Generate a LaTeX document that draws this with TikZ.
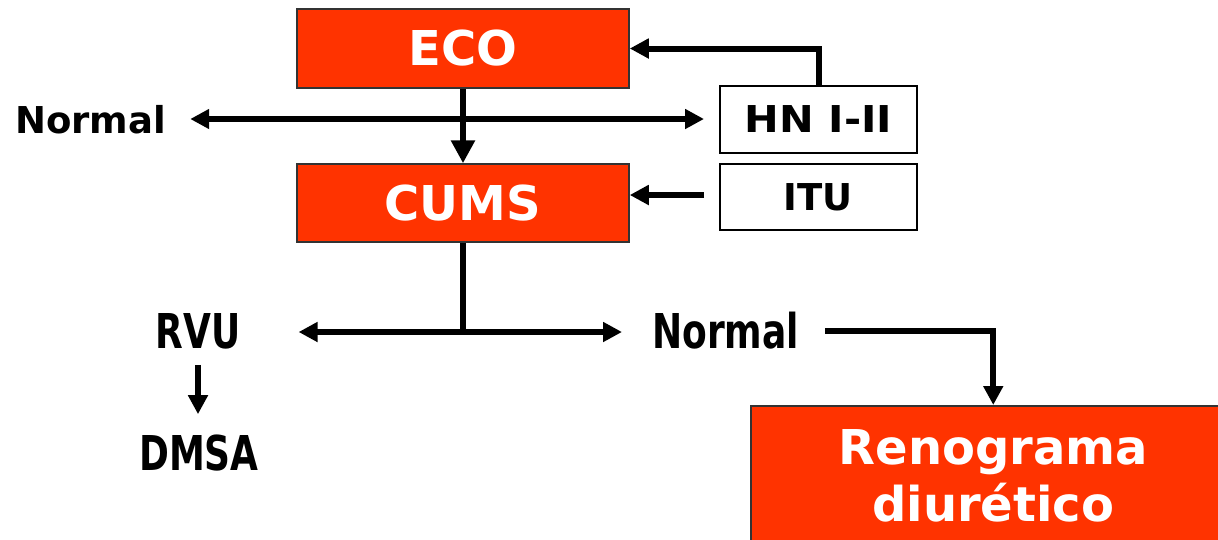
\documentclass[tikz,border=0pt]{standalone}
\usepackage{fontspec}
\setmainfont{DejaVu Sans}
\usetikzlibrary{arrows.meta}
\definecolor{boxred}{HTML}{FF3300}
\definecolor{boxedge}{HTML}{333333}
\tikzset{
  redbox/.style={draw=boxedge, line width=1.5pt, fill=boxred, text=white, inner sep=0pt,
    font=\fontsize{48}{57}\selectfont\bfseries},
  whitebox/.style={draw=black, line width=2pt, fill=white, inner sep=0pt,
    font=\fontsize{37}{44}\selectfont\bfseries, minimum width=197pt, minimum height=66pt},
  lbl/.style={inner sep=0pt, font=\fontsize{37}{44}\selectfont\bfseries},
  cond/.style={inner sep=0pt, font=\fontsize{48}{57}\selectfont\bfseries},
  conn/.style={line width=6pt, -{Triangle[length=19pt,width=19pt]}},
  biconn/.style={line width=6pt, {Triangle[length=19pt,width=19pt]}-{Triangle[length=19pt,width=19pt]}},
  bigconn/.style={line width=6.5pt, -{Triangle[length=23pt,width=23pt]}},
}
\newcommand{\squeeze}[1]{\scalebox{0.75}[1]{#1}}
\begin{document}
\begin{tikzpicture}[x=1pt,y=-1pt]
\useasboundingbox[fill=white] (0,0) rectangle (1218,539);

\node[redbox, minimum width=332pt, minimum height=79pt] (eco) at (463,48.5) {ECO};
\node[redbox, minimum width=332pt, minimum height=78pt] (cums) at (463,203) {CUMS};
\node[whitebox, minimum height=67pt] (hn) at (818.5,119) {\scalebox{1.12}[1]{HN I-II}};
\node[whitebox] (itu) at (818.5,197) {ITU};
\node[redbox, minimum width=485pt, minimum height=140pt, anchor=north west, align=center] (reno) at (750,405) {Renograma\\diurético};

\node[lbl, anchor=base west] (tn) at (15,133) {Normal};
\node[cond, anchor=base] (rvu) at (198,348) {\squeeze{RVU}};
\node[cond, anchor=base west] (nb) at (652,348) {\squeeze{Normal}};
\node[cond, anchor=base] (dmsa) at (199,470) {\squeeze{DMSA}};

\draw[biconn, shorten <=24pt, shorten >=15pt] (tn.east |- 0,119) -- (hn.west |- 0,119);
\draw[bigconn] (eco.south) -- (cums.north);
\draw[conn] (hn.north) |- (eco.east);
\draw[conn, shorten <=15pt] (itu.west |- 0,195) -- (cums.east |- 0,195);
\draw[line width=6pt] (cums.south) -- (463,335) coordinate (j);
\draw[biconn, shorten <=58pt, shorten >=30pt] (rvu.east |- 0,332) -- (nb.west |- 0,332);
\draw[conn, shorten <=26pt] (nb.east |- 0,331) -| (reno.north);
\draw[conn, shorten <=16pt, shorten >=20pt] (rvu.south) -- (rvu.south |- dmsa.north);
\end{tikzpicture}
\end{document}
